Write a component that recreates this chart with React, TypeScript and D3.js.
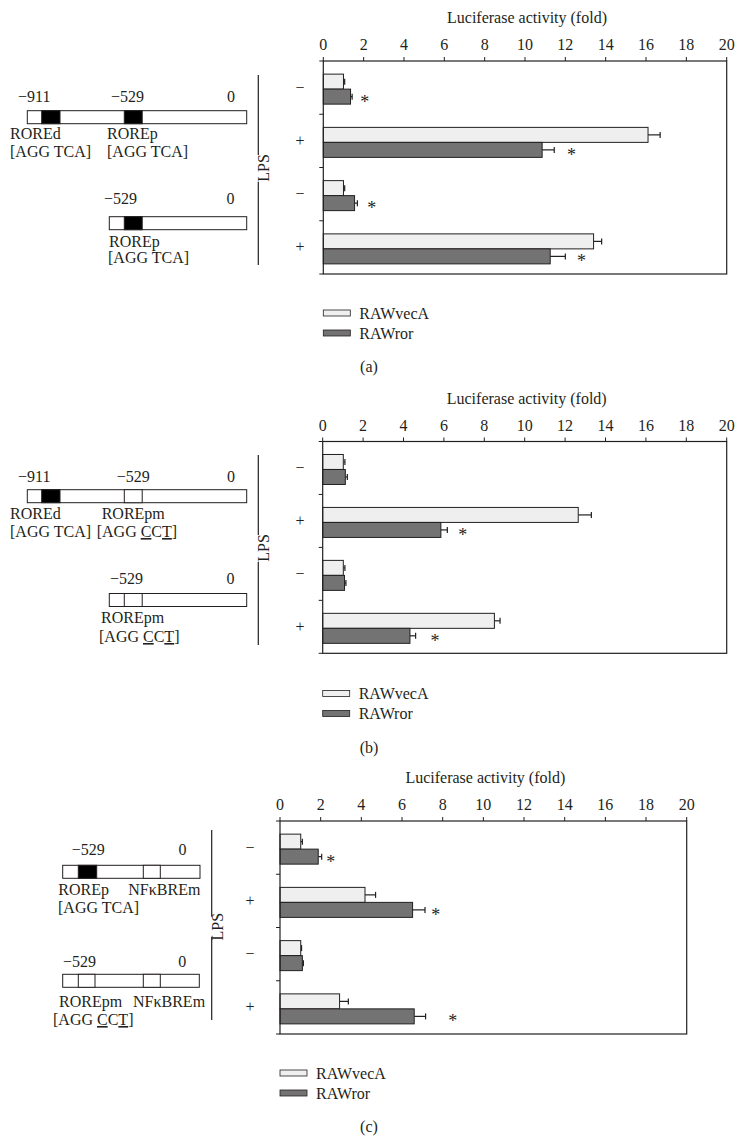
import React from 'react'
import * as d3 from 'd3'

const lpsGroups = ['−', '+', '−', '+']
const seriesNames = ['RAWvecA', 'RAWror']
const xTicks = [0, 2, 4, 6, 8, 10, 12, 14, 16, 18, 20]

// panel (a)
const vecA_a = [1.0, 16.1, 1.0, 13.4]
const vecAErr_a = [0.06, 0.6, 0.06, 0.4]
const ror_a = [1.35, 10.85, 1.55, 11.25]
const rorErr_a = [0.08, 0.6, 0.14, 0.75]
const star_a = [2.05, 12.3, 2.4, 12.8]

// panel (b)
const vecA_b = [1.02, 12.65, 1.02, 8.5]
const vecAErr_b = [0.08, 0.65, 0.08, 0.28]
const ror_b = [1.12, 5.85, 1.08, 4.32]
const rorErr_b = [0.1, 0.32, 0.07, 0.28]
const star_b = [null, 6.93, null, 5.56]

// panel (c)
const vecA_c = [1.02, 4.18, 1.02, 2.93]
const vecAErr_c = [0.08, 0.52, 0.04, 0.43]
const ror_c = [1.88, 6.52, 1.1, 6.6]
const rorErr_c = [0.17, 0.61, 0.05, 0.56]
const star_c = [2.5, 7.66, null, 8.49]

const FONT = 'Liberation Serif, DejaVu Serif, serif'
const FS = 16
const INK = '#231f20'
const fills = { RAWvecA: '#efefef', RAWror: '#737373' }

function BarPanel ({ x0, x1, top, bottom, vecA, vecAErr, ror, rorErr, stars, label, lpsX }) {
  const x = d3.scaleLinear().domain([0, 20]).range([x0, x1])
  const y = d3.scaleBand().domain(d3.range(4)).range([top, bottom])
  const inner = d3.scaleBand().domain(seriesNames).range([0, 30])
  const off = (y.bandwidth() - 30) / 2 + 1.5
  const rows = lpsGroups.map((g, i) => ({
    g,
    i,
    bars: [
      { s: 'RAWvecA', v: vecA[i], e: vecAErr[i] },
      { s: 'RAWror', v: ror[i], e: rorErr[i] }
    ],
    star: stars[i]
  }))
  const bh = inner.bandwidth()
  return (
    <g fontFamily={FONT} fill={INK}>
      <text x={(x0 + x1) / 2 + 2} y={top - 38} textAnchor='middle' fontSize={FS}>Luciferase activity (fold)</text>
      {xTicks.map(t => (
        <g key={t}>
          <text x={x(t)} y={top - 11} textAnchor='middle' fontSize={FS}>{t}</text>
          <line x1={x(t)} x2={x(t)} y1={top} y2={top - 4} stroke={INK} strokeWidth={1} />
        </g>
      ))}
      {d3.range(5).map(k => {
        const yy = top + k * y.step()
        return <line key={k} x1={x0 - 4} x2={x0} y1={yy} y2={yy} stroke={INK} strokeWidth={1} />
      })}
      {rows.map(r => (
        <g key={r.i}>
          <text x={lpsX} y={y(r.i) + y.bandwidth() / 2 + 5} textAnchor='middle' fontSize={FS}>{r.g}</text>
          {r.bars.map(b => {
            const by = y(r.i) + off + inner(b.s)
            const cy = by + bh / 2
            return (
              <g key={b.s}>
                <line x1={x(b.v)} x2={x(b.v + b.e)} y1={cy} y2={cy} stroke={INK} strokeWidth={1.2} />
                <line x1={x(b.v + b.e)} x2={x(b.v + b.e)} y1={cy - 3} y2={cy + 3} stroke={INK} strokeWidth={1.2} />
                <rect x={x(0)} y={by} width={x(b.v) - x(0)} height={bh} fill={fills[b.s]} stroke={INK} strokeWidth={1} />
              </g>
            )
          })}
          {r.star != null && (
            <text x={x(r.star)} y={y(r.i) + off + inner('RAWror') + bh / 2 + 11} textAnchor='middle' fontSize={18}>*</text>
          )}
        </g>
      ))}
      <rect x={x0} y={top} width={x1 - x0} height={bottom - top} fill='none' stroke={INK} strokeWidth={1.2} />
      {seriesNames.map((s, k) => (
        <g key={s}>
          <rect x={x0} y={top + 249 + k * 20} width={27} height={6} fill={fills[s]} stroke={INK} strokeWidth={0.8} />
          <text x={x0 + 36} y={top + 257.5 + k * 20} fontSize={FS}>{s}</text>
        </g>
      ))}
      <text x={369} y={top + 311} textAnchor='middle' fontSize={FS}>{label}</text>
    </g>
  )
}

function Construct ({ x, w, y, boxes }) {
  return (
    <g>
      <rect x={x} y={y} width={w} height={13} fill='#fff' stroke={INK} strokeWidth={1} />
      {boxes.map((b, i) => (
        <rect key={i} x={b[0]} y={y} width={b[1] - b[0]} height={13} fill={b[2] ? '#000' : '#fff'} stroke={INK} strokeWidth={1} />
      ))}
    </g>
  )
}

function Lps ({ x, y1, y2, y3, y4, ty }) {
  return (
    <g>
      <line x1={x} x2={x} y1={y1} y2={y2} stroke={INK} strokeWidth={1.2} />
      <line x1={x} x2={x} y1={y3} y2={y4} stroke={INK} strokeWidth={1.2} />
      <text transform={`translate(${x + 11},${ty}) rotate(-90)`} textAnchor='middle' fontSize={FS}>LPS</text>
    </g>
  )
}

const CCT = () => (
  <>[AGG <tspan textDecoration='underline' style={{ textDecoration: 'underline' }}>C</tspan>C<tspan textDecoration='underline' style={{ textDecoration: 'underline' }}>T</tspan>]</>
)

function DiagramA ({ dy, mutant }) {
  return (
    <g fontFamily={FONT} fill={INK} fontSize={FS} transform={`translate(0,${dy})`}>
      <text x={18} y={101.7}>−911</text>
      <text x={mutant ? 116.7 : 111} y={101.7}>−529</text>
      <text x={231} y={101.7} textAnchor='middle'>0</text>
      <Construct x={27.3} w={219.4} y={mutant ? 109.7 : 110.7} boxes={[[41.7, 60, true], [124.3, 142.2, !mutant]]} />
      <text x={10} y={139}>ROREd</text>
      <text x={10} y={157}>[AGG TCA]</text>
      {mutant
        ? <><text x={101.7} y={139}>ROREpm</text><text x={96.7} y={157}><CCT /></text></>
        : <><text x={107} y={139}>ROREp</text><text x={107} y={157}>[AGG TCA]</text></>}

      <text x={mutant ? 110 : 104} y={204}>−529</text>
      <text x={230.5} y={204} textAnchor='middle'>0</text>
      <Construct x={109.3} w={137.4} y={mutant ? 213.5 : 216.7} boxes={[[124.3, 142.2, !mutant]]} />
      {mutant
        ? <><text x={101} y={243}>ROREpm</text><text x={99} y={262}><CCT /></text></>
        : <><text x={109} y={247}>ROREp</text><text x={108} y={263}>[AGG TCA]</text></>}
      <Lps x={258.3} y1={75} y2={155} y3={181.7} y4={265} ty={168} />
    </g>
  )
}

function DiagramC () {
  return (
    <g fontFamily={FONT} fill={INK} fontSize={FS}>
      <text x={71.7} y={855}>−529</text>
      <text x={182.5} y={855} textAnchor='middle'>0</text>
      <Construct x={62.7} w={137.3} y={865.3} boxes={[[78.3, 96.7, true], [143.3, 160.3, false]]} />
      <text x={58.3} y={895}>ROREp</text>
      <text x={128.3} y={895}>NFκBREm</text>
      <text x={58} y={913}>[AGG TCA]</text>

      <text x={63} y={966.7}>−529</text>
      <text x={182.3} y={966.7} textAnchor='middle'>0</text>
      <Construct x={62.7} w={136.6} y={974.3} boxes={[[78.3, 95, false], [143.3, 160.3, false]]} />
      <text x={59} y={1006.7}>ROREpm</text>
      <text x={133} y={1006.7}>NFκBREm</text>
      <text x={53} y={1025}><CCT /></text>
      <Lps x={211.7} y1={830} y2={916.7} y3={936.7} y4={1020} ty={926.7} />
    </g>
  )
}

export default function App () {
  return (
    <svg width={744} height={1143} style={{ position: 'absolute', left: 0, top: 0, background: '#fff' }}>
      <rect width={744} height={1143} fill='#fff' />
      <DiagramA dy={0} mutant={false} />
      <BarPanel x0={323.3} x1={726.7} top={61} bottom={274} vecA={vecA_a} vecAErr={vecAErr_a} ror={ror_a} rorErr={rorErr_a} stars={star_a} label='(a)' lpsX={300} />
      <DiagramA dy={380} mutant />
      <BarPanel x0={322.7} x1={726.7} top={441.5} bottom={653.3} vecA={vecA_b} vecAErr={vecAErr_b} ror={ror_b} rorErr={rorErr_b} stars={star_b} label='(b)' lpsX={300} />
      <DiagramC />
      <BarPanel x0={280} x1={686.7} top={821} bottom={1034} vecA={vecA_c} vecAErr={vecAErr_c} ror={ror_c} rorErr={rorErr_c} stars={star_c} label='(c)' lpsX={250} />
    </svg>
  )
}
